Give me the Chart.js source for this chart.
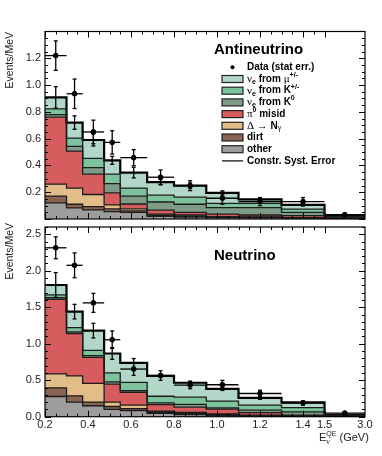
<!DOCTYPE html>
<html>
<head>
<meta charset="utf-8">
<script src="https://cdn.jsdelivr.net/npm/chart.js@4.4.0/dist/chart.umd.min.js"></script>
<style>
  body { margin: 0; background: #fff; }
  #wrap { position: relative; width: 382px; height: 456px; }
  canvas { position: absolute; left: 0; }
</style>
</head>
<body>
<div id="wrap">
  <canvas id="antinu" width="382" height="224" style="top:0;width:382px;height:224px"></canvas>
  <canvas id="nu" width="382" height="234" style="top:222px;width:382px;height:234px"></canvas>
</div>
<script>
// bins in E_nu^QE (GeV)
var binEdges = [0.2, 0.3, 0.375, 0.475, 0.55, 0.675, 0.8, 0.95, 1.1, 1.3, 1.5, 3.0];

// antineutrino mode, events/MeV per component (bottom -> top of stack)
var anuOther = [0.120, 0.083, 0.068, 0.055, 0.049, 0.020, 0.015, 0.010, 0.008, 0.006, 0.003];
var anuDirt  = [0.051, 0.027, 0.024, 0.020, 0.011, 0.008, 0.007, 0.005, 0.004, 0.003, 0.001];
var anuDelta = [0.090, 0.121, 0.091, 0.030, 0.016, 0.009, 0.008, 0.003, 0.003, 0.002, 0.001];
var anuPi0   = [0.499, 0.276, 0.152, 0.090, 0.036, 0.029, 0.019, 0.019, 0.015, 0.014, 0.002];
var anuNueK0 = [0.020, 0.036, 0.049, 0.069, 0.059, 0.061, 0.061, 0.048, 0.055, 0.024, 0.008];
var anuNueK  = [0.043, 0.061, 0.068, 0.071, 0.060, 0.051, 0.054, 0.032, 0.032, 0.025, 0.004];
var anuNueMu = [0.085, 0.116, 0.138, 0.103, 0.116, 0.097, 0.085, 0.078, 0.030, 0.031, 0.002];
var anuData    = [1.220, 0.935, 0.650, 0.572, 0.458, 0.312, 0.249, 0.155, 0.130, 0.130, 0.032];
var anuDataErr = [0.110, 0.110, 0.088, 0.087, 0.060, 0.054, 0.037, 0.045, 0.030, 0.030, 0.008];
var anuSyst    = [0.080, 0.050, 0.045, 0.030, 0.040, 0.020, 0.020, 0.015, 0.010, 0.008, 0.003];

// neutrino mode
var nuOther = [0.277, 0.200, 0.150, 0.100, 0.085, 0.045, 0.030, 0.020, 0.010, 0.006, 0.003];
var nuDirt  = [0.118, 0.086, 0.050, 0.040, 0.025, 0.015, 0.015, 0.010, 0.005, 0.004, 0.002];
var nuDelta = [0.191, 0.273, 0.258, 0.060, 0.050, 0.015, 0.013, 0.008, 0.005, 0.002, 0.001];
var nuPi0   = [1.023, 0.581, 0.356, 0.247, 0.175, 0.090, 0.072, 0.067, 0.035, 0.008, 0.002];
var nuNueK0 = [0.021, 0.022, 0.022, 0.031, 0.023, 0.025, 0.040, 0.015, 0.035, 0.045, 0.006];
var nuNueK  = [0.040, 0.060, 0.074, 0.122, 0.112, 0.090, 0.098, 0.094, 0.070, 0.060, 0.006];
var nuNueMu = [0.135, 0.218, 0.270, 0.266, 0.267, 0.280, 0.197, 0.166, 0.098, 0.070, 0.004];
var nuData    = [2.315, 2.075, 1.560, 1.055, 0.653, 0.565, 0.434, 0.438, 0.318, 0.188, 0.050];
var nuDataErr = [0.150, 0.170, 0.130, 0.120, 0.085, 0.065, 0.050, 0.060, 0.045, 0.030, 0.010];
var nuSyst    = [0.170, 0.100, 0.100, 0.080, 0.060, 0.020, 0.020, 0.020, 0.020, 0.010, 0.004];

// ticks
var xTickValues = [0.2, 0.4, 0.6, 0.8, 1.0, 1.2, 1.4, 1.5, 3.0];
var xTickLabels = ['0.2', '0.4', '0.6', '0.8', '1.0', '1.2', '1.4', '1.5', '3.0'];
var anuYTicks = [0.2, 0.4, 0.6, 0.8, 1.0, 1.2];
var anuYLabels = ['0.2', '0.4', '0.6', '0.8', '1.0', '1.2'];
var nuYTicks = [0, 0.5, 1.0, 1.5, 2.0, 2.5];
var nuYLabels = ['0.0', '0.5', '1.0', '1.5', '2.0', '2.5'];

var colors = ['#9d9d9d', '#8b6352', '#e2bd87', '#d65c5e', '#7f9c89', '#7cc39c', '#b2d6c8'];
var SANS = '"Liberation Sans", Arial, Helvetica, sans-serif';
var SERIF = '"Liberation Serif", "Times New Roman", serif';

// the x axis is linear up to 1.5 GeV and compressed above it
function xu(e) { return e <= 1.5 ? e : 1.5 + (e - 1.5) * 0.1255; }
function center(i) { return xu((binEdges[i] + binEdges[i + 1]) / 2); }

function buildDatasets(comps, data) {
  var cum = data.map(function () { return 0; });
  var sets = [];
  comps.forEach(function (c, k) {
    var pts = [];
    c.forEach(function (v, i) {
      cum[i] += v;
      pts.push({ x: xu(binEdges[i]), y: cum[i] });
      pts.push({ x: xu(binEdges[i + 1]), y: cum[i] });
    });
    var top = k == comps.length - 1;
    sets.push({
      data: pts,
      fill: k == 0 ? 'origin' : '-1',
      backgroundColor: colors[k],
      borderColor: top ? '#000' : '#1c1c1c',
      borderWidth: top ? 2.2 : 1.3,
      pointRadius: 0,
      tension: 0
    });
  });
  sets.push({
    data: data.map(function (v, i) { return { x: center(i), y: v }; }),
    showLine: false,
    pointRadius: 2.4,
    pointBackgroundColor: '#000',
    pointBorderColor: '#000',
    borderColor: '#000',
    fill: false
  });
  return { sets: sets, total: cum.slice() };
}

function seg(ctx, x1, y1, x2, y2) {
  ctx.beginPath(); ctx.moveTo(x1, y1); ctx.lineTo(x2, y2); ctx.stroke();
}

function rich(ctx, x, y, parts) {
  parts.forEach(function (p) {
    ctx.font = p[1];
    ctx.fillText(p[0], x, y + (p[2] || 0));
    x += ctx.measureText(p[0]).width;
  });
}

function makeDecor(p) {
  return {
    id: 'decor',
    afterDatasetsDraw: function (chart) {
      var ctx = chart.ctx, x = chart.scales.x, y = chart.scales.y;
      ctx.save();
      ctx.strokeStyle = '#000';
      ctx.lineWidth = 1.3;
      // constrained syst. error on the prediction
      p.total.forEach(function (t, i) {
        var cx = x.getPixelForValue(center(i));
        var y1 = y.getPixelForValue(t - p.syst[i]), y2 = y.getPixelForValue(t + p.syst[i]);
        seg(ctx, cx, y1, cx, y2);
        seg(ctx, cx - 2, y1, cx + 2, y1);
        seg(ctx, cx - 2, y2, cx + 2, y2);
      });
      // data with stat errors
      p.data.forEach(function (d, i) {
        var cx = x.getPixelForValue(center(i)), cy = y.getPixelForValue(d);
        var y1 = y.getPixelForValue(d - p.err[i]), y2 = y.getPixelForValue(d + p.err[i]);
        seg(ctx, x.getPixelForValue(xu(binEdges[i])), cy, x.getPixelForValue(xu(binEdges[i + 1])), cy);
        seg(ctx, cx, y1, cx, y2);
        seg(ctx, cx - 2, y1, cx + 2, y1);
        seg(ctx, cx - 2, y2, cx + 2, y2);
      });
      ctx.restore();
    },
    afterDraw: function (chart) {
      var ctx = chart.ctx, a = chart.chartArea, x = chart.scales.x, y = chart.scales.y;
      ctx.save();
      ctx.strokeStyle = '#000';
      ctx.lineWidth = 1.2;
      ctx.strokeRect(a.left, a.top, a.right - a.left, a.bottom - a.top);

      // y ticks, both sides, pointing in
      ctx.lineWidth = 1;
      var n = Math.round(p.yMax / p.yMinor);
      for (var k = 0; k <= n; k++) {
        var v = k * p.yMinor;
        var py = Math.round(y.getPixelForValue(v)) + 0.5;
        var r = v / p.yMajor;
        var len = Math.abs(r - Math.round(r)) < 1e-6 ? 6 : 3;
        seg(ctx, a.left, py, a.left + len, py);
        seg(ctx, a.right, py, a.right - len, py);
      }
      // x ticks, top and bottom
      for (var j = 0; j <= 26; j++) {
        var e = 0.2 + j * 0.05;
        var px = Math.round(x.getPixelForValue(xu(e))) + 0.5;
        var big = (j % 4 == 0) || j == 26;
        var l = big ? 6 : 3;
        seg(ctx, px, a.bottom, px, a.bottom - l);
        seg(ctx, px, a.top, px, a.top + l);
      }

      ctx.fillStyle = '#222';
      ctx.font = '11px ' + SANS;
      ctx.textAlign = 'right';
      ctx.textBaseline = 'middle';
      p.yTicks.forEach(function (v, i) {
        ctx.fillText(p.yLabels[i], a.left - 4, y.getPixelForValue(v));
      });

      if (p.showX) {
        ctx.textAlign = 'center';
        ctx.textBaseline = 'middle';
        xTickValues.forEach(function (v, i) {
          ctx.fillText(xTickLabels[i], x.getPixelForValue(xu(v)), a.bottom + 8);
        });
        // E_nu^QE (GeV)
        ctx.textAlign = 'left';
        ctx.textBaseline = 'alphabetic';
        var bx = 319, by = a.bottom + 24;
        ctx.font = '11px ' + SANS;
        ctx.fillText('E', bx, by);
        var w = ctx.measureText('E').width;
        ctx.font = '7px ' + SANS;
        ctx.fillText('QE', bx + w, by - 5);
        var w2 = ctx.measureText('QE').width;
        ctx.font = '8px ' + SERIF;
        ctx.fillText('\u03bd', bx + w, by + 3);
        ctx.font = '11px ' + SANS;
        ctx.fillText(' (GeV)', bx + w + w2, by);
      }

      // y title
      ctx.save();
      ctx.translate(10, p.yTitleTop);
      ctx.rotate(-Math.PI / 2);
      ctx.font = '10.5px ' + SANS;
      ctx.textAlign = 'right';
      ctx.textBaseline = 'middle';
      ctx.fillText('Events/MeV', 0, 0);
      ctx.restore();

      // panel name
      ctx.fillStyle = '#000';
      ctx.font = 'bold 15px ' + SANS;
      ctx.textAlign = 'left';
      ctx.textBaseline = 'alphabetic';
      ctx.fillText(p.title, 214, p.titleY);

      if (p.legend) drawLegend(ctx);
      ctx.restore();
    }
  };
}

function drawLegend(ctx) {
  var B = 'bold 10px ' + SANS, S = 'bold 7px ' + SANS, G = '11px ' + SERIF, g = '8px ' + SERIF;
  var rows = [
    { mark: 'dot', parts: [['Data (stat err.)', B]] },
    { mark: 6, parts: [['\u03bd', G], ['e', S, 3], [' from ', B], ['\u03bc', G], ['+/-', S, -4]] },
    { mark: 5, parts: [['\u03bd', G], ['e', S, 3], [' from K', B], ['+/-', S, -4]] },
    { mark: 4, parts: [['\u03bd', G], ['e', S, 3], [' from K', B], ['0', S, -4]] },
    { mark: 3, parts: [['\u03c0', G], ['0', S, -4], [' misid', B]] },
    { mark: 2, parts: [['\u0394 \u2192 ', G], ['N', B], ['\u03b3', g, 2]] },
    { mark: 1, parts: [['dirt', B]] },
    { mark: 0, parts: [['other', B]] },
    { mark: 'line', parts: [['Constr. Syst. Error', B]] }
  ];
  ctx.textAlign = 'left';
  ctx.textBaseline = 'middle';
  rows.forEach(function (r, i) {
    var cy = 67.3 + i * 11.7;
    ctx.strokeStyle = '#222';
    ctx.lineWidth = 1.2;
    if (r.mark == 'dot') {
      ctx.fillStyle = '#000';
      ctx.beginPath(); ctx.arc(232.5, cy, 2, 0, Math.PI * 2); ctx.fill();
    } else if (r.mark == 'line') {
      ctx.strokeStyle = '#000';
      seg(ctx, 222, cy, 243, cy);
    } else {
      ctx.fillStyle = colors[r.mark];
      ctx.fillRect(222, cy - 3.5, 21, 7);
      ctx.strokeRect(222, cy - 3.5, 21, 7);
    }
    ctx.fillStyle = '#000';
    rich(ctx, 247, cy, r.parts);
  });
}

function drawPanel(id, comps, data, err, syst, cfg) {
  var built = buildDatasets(comps, data);
  new Chart(document.getElementById(id), {
    type: 'line',
    data: { datasets: built.sets },
    options: {
      responsive: false,
      animation: false,
      events: [],
      layout: { padding: cfg.padding },
      scales: {
        x: { type: 'linear', display: false, min: 0.2, max: xu(3.0) },
        y: { type: 'linear', display: false, min: 0, max: cfg.yMax }
      },
      plugins: {
        legend: { display: false },
        tooltip: { enabled: false },
        filler: { drawTime: 'beforeDatasetsDraw' }
      }
    },
    plugins: [makeDecor({
      total: built.total, syst: syst, data: data, err: err,
      yMax: cfg.yMax, yMajor: cfg.yMajor, yMinor: cfg.yMinor,
      yTicks: cfg.yTicks, yLabels: cfg.yLabels, showX: cfg.showX,
      yTitleTop: cfg.yTitleTop, title: cfg.title, titleY: cfg.titleY, legend: cfg.legend
    })]
  });
}

drawPanel('antinu',
  [anuOther, anuDirt, anuDelta, anuPi0, anuNueK0, anuNueK, anuNueMu],
  anuData, anuDataErr, anuSyst,
  { padding: { left: 45, right: 17, top: 31.5, bottom: 1 }, yMax: 1.4, yMajor: 0.2, yMinor: 0.05,
    yTicks: anuYTicks, yLabels: anuYLabels, showX: false, yTitleTop: 32,
    title: 'Antineutrino', titleY: 54, legend: true });

drawPanel('nu',
  [nuOther, nuDirt, nuDelta, nuPi0, nuNueK0, nuNueK, nuNueMu],
  nuData, nuDataErr, nuSyst,
  { padding: { left: 45, right: 17, top: 1, bottom: 39.3 }, yMax: 2.6, yMajor: 0.5, yMinor: 0.1,
    yTicks: nuYTicks, yLabels: nuYLabels, showX: true, yTitleTop: 1,
    title: 'Neutrino', titleY: 38, legend: false });
</script>
</body>
</html>
